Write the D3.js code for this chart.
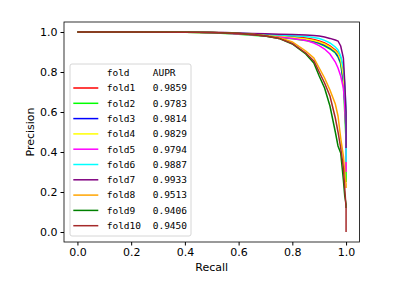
<!DOCTYPE html>
<html>
<head>
<meta charset="utf-8">
<script src="https://cdn.jsdelivr.net/npm/d3@7"></script>
<style>
  body { margin: 0; background: #fff; }
  svg { display: block; font-family: 'DejaVu Sans', sans-serif; }
</style>
</head>
<body>
<svg id="pr" width="407" height="286"></svg>
<script>
// recall grid shared by all folds (last point repeated for the final vertical drop)
const recall = [0, 0.2, 0.4, 0.5, 0.55, 0.6, 0.65, 0.7, 0.75, 0.8, 0.85, 0.88, 0.9, 0.92, 0.94, 0.96, 0.97, 0.98, 0.99, 0.995, 1.0, 1.0];

const folds = ['fold1', 'fold2', 'fold3', 'fold4', 'fold5', 'fold6', 'fold7', 'fold8', 'fold9', 'fold10'];
const aupr = ['0.9859', '0.9783', '0.9814', '0.9829', '0.9794', '0.9887', '0.9933', '0.9513', '0.9406', '0.9450'];
const colors = ['#ff0000', '#00ff00', '#0000ff', '#ffff00', '#ff00ff', '#00ffff', '#800080', '#ffa500', '#008000', '#a52a2a'];

const fold1 = [1, 1, 1, 0.998, 0.996, 0.993, 0.99, 0.986, 0.982, 0.977, 0.97, 0.963, 0.955, 0.945, 0.93, 0.91, 0.895, 0.87, 0.8, 0.7, 0.55, 0.3];
const fold2 = [1, 1, 0.999, 0.996, 0.993, 0.989, 0.984, 0.979, 0.973, 0.966, 0.958, 0.95, 0.942, 0.93, 0.915, 0.895, 0.875, 0.84, 0.74, 0.6, 0.45, 0.25];
const fold3 = [1, 1, 1, 0.997, 0.995, 0.992, 0.988, 0.983, 0.978, 0.972, 0.964, 0.955, 0.946, 0.935, 0.92, 0.9, 0.88, 0.85, 0.76, 0.66, 0.5, 0.3];
const fold4 = [1, 1, 1, 0.997, 0.995, 0.992, 0.988, 0.984, 0.979, 0.973, 0.965, 0.957, 0.95, 0.94, 0.925, 0.905, 0.89, 0.86, 0.78, 0.68, 0.5, 0.3];
const fold5 = [1, 1, 1, 0.997, 0.994, 0.99, 0.986, 0.98, 0.975, 0.968, 0.958, 0.945, 0.932, 0.915, 0.89, 0.85, 0.82, 0.78, 0.72, 0.64, 0.5, 0.3];
const fold6 = [1, 1, 1, 0.998, 0.996, 0.994, 0.991, 0.988, 0.985, 0.981, 0.977, 0.972, 0.967, 0.958, 0.945, 0.925, 0.91, 0.88, 0.82, 0.74, 0.6, 0.35];
const fold7 = [1, 1, 1, 0.998, 0.997, 0.995, 0.993, 0.991, 0.989, 0.987, 0.985, 0.983, 0.98, 0.975, 0.968, 0.96, 0.955, 0.93, 0.87, 0.75, 0.6, 0.42];
const fold8 = [1, 1, 0.999, 0.998, 0.996, 0.993, 0.989, 0.983, 0.972, 0.95, 0.905, 0.87, 0.82, 0.77, 0.71, 0.64, 0.58, 0.47, 0.38, 0.3, 0.24, 0.22];
const fold9 = [1, 1, 0.999, 0.997, 0.995, 0.992, 0.987, 0.98, 0.968, 0.94, 0.89, 0.845, 0.78, 0.72, 0.63, 0.5, 0.43, 0.395, 0.26, 0.18, 0.14, 0.12];
const fold10 = [1, 1, 0.999, 0.997, 0.995, 0.992, 0.987, 0.98, 0.968, 0.942, 0.895, 0.855, 0.8, 0.745, 0.68, 0.57, 0.5, 0.42, 0.32, 0.22, 0.12, 0.0];
const precision = [fold1, fold2, fold3, fold4, fold5, fold6, fold7, fold8, fold9, fold10];

const ticks = [0, 0.2, 0.4, 0.6, 0.8, 1.0];

const plotLeft = 64, plotRight = 359.5, plotTop = 22, plotBottom = 242;
const svg = d3.select('#pr');

const x = d3.scaleLinear().domain([-0.05, 1.05]).range([plotLeft, plotRight]);
const y = d3.scaleLinear().domain([-0.05, 1.05]).range([plotBottom, plotTop]);

const line = d3.line()
  .x(d => x(d[0]))
  .y(d => y(d[1]));

svg.append('g')
  .attr('fill', 'none')
  .attr('stroke-width', 1.5)
  .selectAll('path')
  .data(precision)
  .join('path')
  .attr('stroke', (d, i) => colors[i])
  .attr('d', d => line(d.map((p, j) => [recall[j], p])));

// axes
svg.append('g')
  .attr('transform', `translate(0,${plotBottom})`)
  .call(d3.axisBottom(x).tickValues(ticks).tickFormat(d3.format('.1f')).tickSize(3.5).tickSizeOuter(0))
  .call(g => g.select('.domain').remove())
  .call(g => g.selectAll('text').attr('font-size', 11).attr('font-family', 'DejaVu Sans').attr('fill', '#000'));

svg.append('g')
  .attr('transform', `translate(${plotLeft},0)`)
  .call(d3.axisLeft(y).tickValues(ticks).tickFormat(d3.format('.1f')).tickSize(3.5).tickSizeOuter(0))
  .call(g => g.select('.domain').remove())
  .call(g => g.selectAll('text').attr('font-size', 11).attr('font-family', 'DejaVu Sans').attr('fill', '#000'));

svg.append('rect')
  .attr('x', plotLeft).attr('y', plotTop)
  .attr('width', plotRight - plotLeft).attr('height', plotBottom - plotTop)
  .attr('fill', 'none').attr('stroke', '#000').attr('stroke-width', 0.8);

svg.append('text')
  .attr('x', (plotLeft + plotRight) / 2).attr('y', 271)
  .attr('text-anchor', 'middle').attr('font-size', 11)
  .text('Recall');

svg.append('text')
  .attr('transform', `translate(34,${(plotTop + plotBottom) / 2}) rotate(-90)`)
  .attr('text-anchor', 'middle').attr('font-size', 11)
  .text('Precision');

// legend
const lg = svg.append('g').attr('font-family', 'DejaVu Sans Mono, monospace').attr('font-size', 9.5);
lg.append('rect')
  .attr('x', 70).attr('y', 64).attr('width', 121).attr('height', 172)
  .attr('rx', 2).attr('fill', '#fff').attr('fill-opacity', 0.8)
  .attr('stroke', '#ccc').attr('stroke-width', 0.8);

const rowY = i => 72.7 + 15.3 * i;
lg.append('text').attr('x', 106.7).attr('y', rowY(0)).attr('dy', '0.35em').text('fold');
lg.append('text').attr('x', 152.7).attr('y', rowY(0)).attr('dy', '0.35em').text('AUPR');

const rows = lg.selectAll('g.row')
  .data(folds)
  .join('g')
  .attr('class', 'row')
  .attr('transform', (d, i) => `translate(0,${rowY(i + 1)})`);
rows.append('line')
  .attr('x1', 73.3).attr('x2', 98.3)
  .attr('stroke', (d, i) => colors[i]).attr('stroke-width', 1.5);
rows.append('text').attr('x', 106.7).attr('dy', '0.35em').text(d => d);
rows.append('text').attr('x', 152.7).attr('dy', '0.35em').text((d, i) => aupr[i]);
</script>
</body>
</html>
